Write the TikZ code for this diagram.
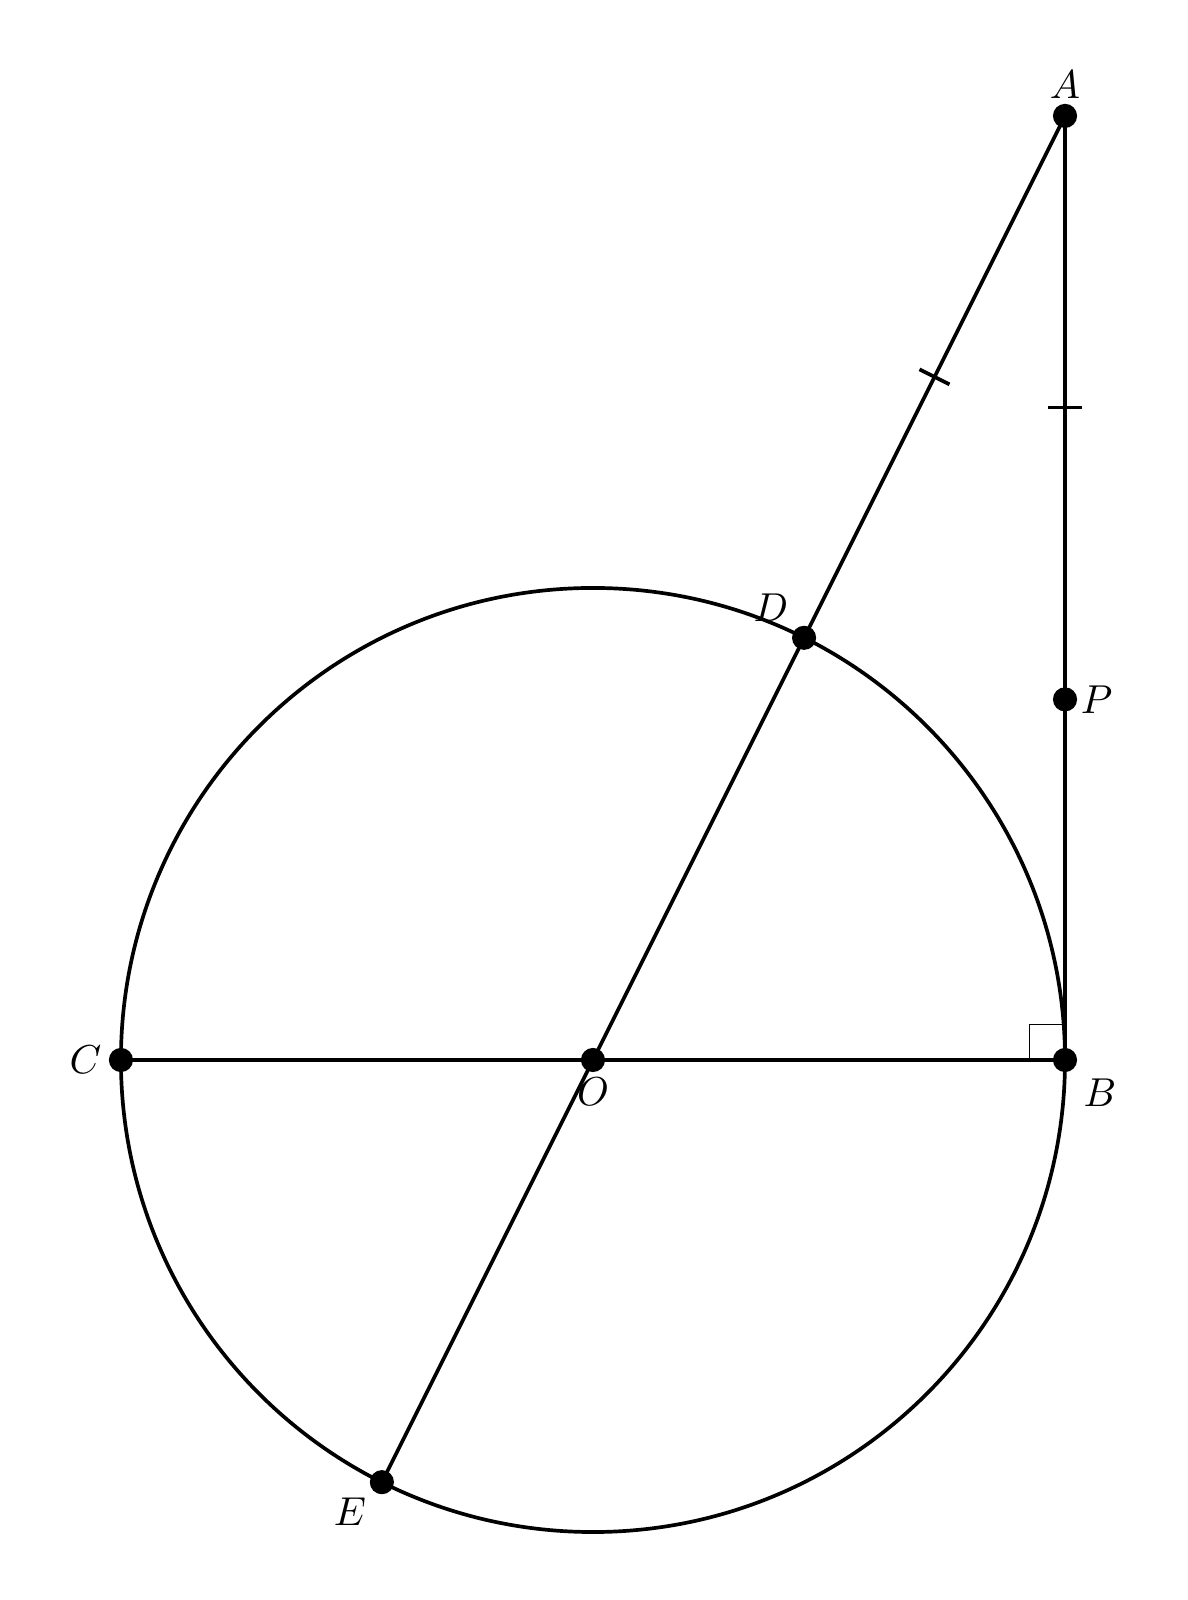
\documentclass[tikz,border=0pt]{standalone}
\usetikzlibrary{decorations.markings}
\begin{document}
\begin{tikzpicture}[
        line width=1pt,
        every node/.style={font=\fontsize{10.8}{13}\selectfont},
        tickmark/.style={
            postaction={decorate},
            decoration={markings,
                mark=at position 0.5 with {\draw[line width=1pt] (0,-0.16) -- (0,0.16);}}
        }
    ]
    \useasboundingbox (-5.653,-5.148) rectangle (5.663,10.105);
    \coordinate (O) at (0,0);
    \coordinate (B) at (4.5,0);
    \coordinate (C) at (-4.5,0);
    \coordinate (A) at (4.5,9);
    \coordinate (D) at (63.435:4.5);
    \coordinate (E) at (243.435:4.5);
    \coordinate (P) at (4.5,3.4377);
    \draw (O) circle (4.5);
    \draw (C) -- (B);
    \draw (E) -- (D);
    \draw[tickmark] (D) -- (A);
    \draw[tickmark,line width=1.3pt] (A) -- (P);
    \draw[line width=1.3pt] (P) -- (B);
    \draw[thin] (B) ++(-0.34,0) -- ++(0,0.34) -- ++(0.34,0);
    \foreach \p in {A,B,C,D,E,O,P}
        \fill (\p) circle (0.115);
    \node[above=1pt] (lA) at (A) {$A$};
    \node[below right=1.2pt] (lB) at (B) {$B$};
    \node[left=1.5pt] (lC) at (C) {$C$};
    \node[above left=0.5pt] (lD) at (D) {$D$};
    \node[below left=0.5pt] (lE) at (E) {$E$};
    \node[below=1pt] (lO) at (O) {$O$};
    \node[right=0.5pt] (lP) at (P) {$P$};
\end{tikzpicture}
\end{document}
